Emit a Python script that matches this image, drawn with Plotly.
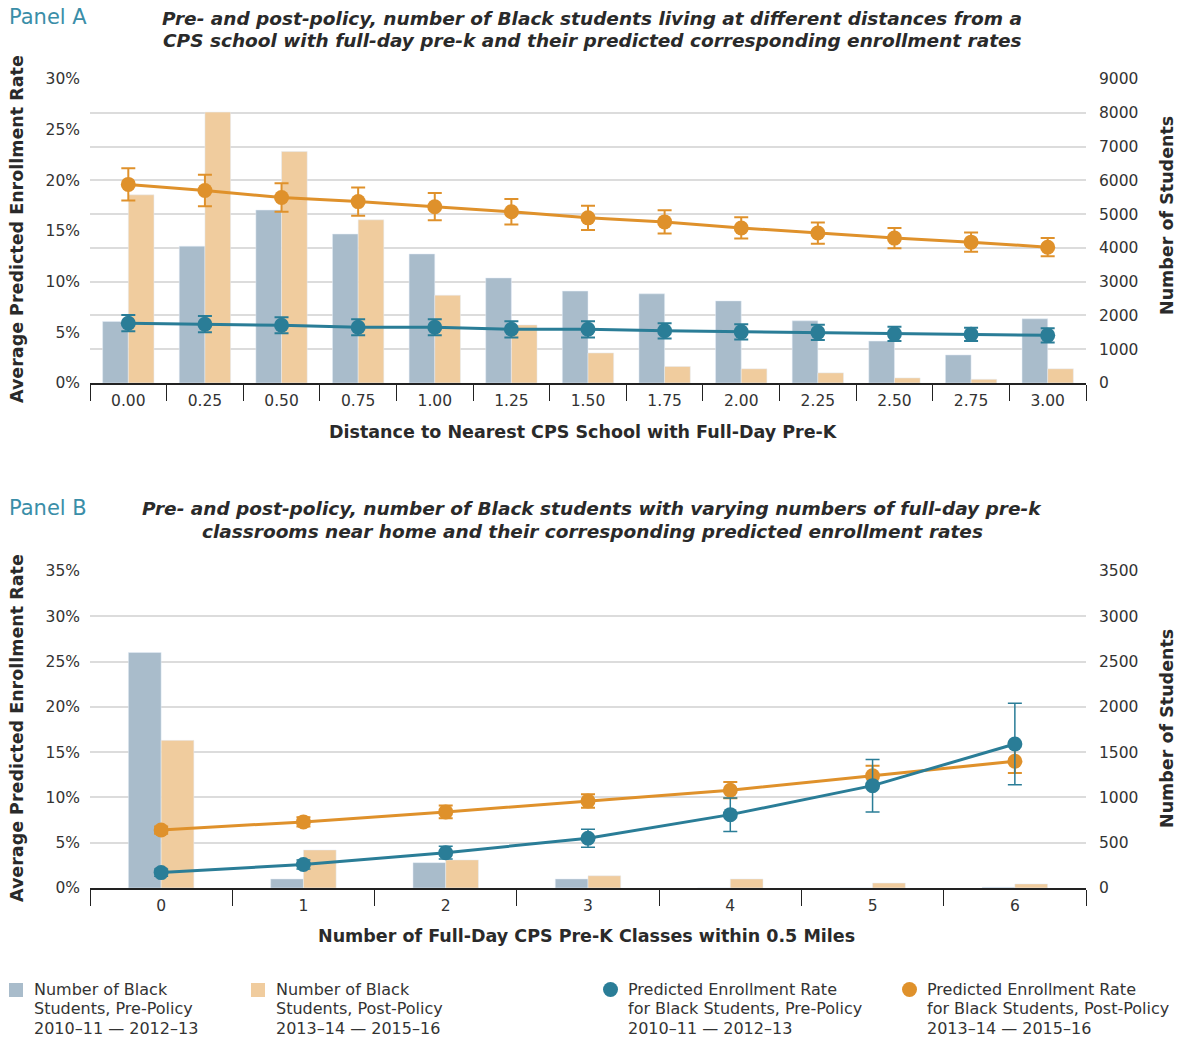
import plotly.graph_objects as go

# ---------------- Panel A data ----------------
dist_labels = ["0.00", "0.25", "0.50", "0.75", "1.00", "1.25", "1.50",
               "1.75", "2.00", "2.25", "2.50", "2.75", "3.00"]
a_students_pre = [1820, 4050, 5120, 4410, 3820, 3110, 2720, 2640, 2430, 1840, 1240, 830, 1900]
a_students_post = [5570, 8020, 6850, 4830, 2600, 1720, 890, 490, 420, 300, 150, 110, 420]
a_rate_pre = [5.9, 5.8, 5.7, 5.5, 5.5, 5.3, 5.3, 5.15, 5.05, 5.0, 4.85, 4.8, 4.7]
a_err_pre = [0.8, 0.8, 0.8, 0.8, 0.8, 0.8, 0.8, 0.75, 0.75, 0.75, 0.7, 0.65, 0.7]
a_rate_post = [19.6, 19.0, 18.3, 17.9, 17.4, 16.9, 16.3, 15.9, 15.3, 14.8, 14.3, 13.9, 13.4]
a_err_post = [1.6, 1.55, 1.4, 1.4, 1.35, 1.25, 1.2, 1.15, 1.05, 1.05, 1.0, 0.95, 0.9]

# ---------------- Panel B data ----------------
class_labels = ["0", "1", "2", "3", "4", "5", "6"]
b_students_pre = [2600, 100, 280, 100, 0, 0, 8]
b_students_post = [1630, 420, 310, 135, 100, 55, 45]
b_rate_pre = [1.7, 2.6, 3.9, 5.5, 8.1, 11.3, 15.9]
b_err_pre = [0.4, 0.5, 0.7, 1.0, 1.85, 2.9, 4.5]
b_rate_post = [6.4, 7.3, 8.4, 9.6, 10.8, 12.4, 14.0]
b_err_post_plus = [0.4, 0.5, 0.7, 0.75, 0.9, 1.1, 2.0]
b_err_post_minus = [0.4, 0.5, 0.7, 0.75, 0.9, 1.1, 1.3]

BAR_PRE = "#a9bccb"
BAR_POST = "#f0cc9e"
TEAL = "#2a7d97"
ORANGE = "#df912b"
PANEL_COLOR = "#3a8ea8"
TEXT = "#1e1e1e"
GRID = "#dcdcdc"
FONT = "DejaVu Sans"

W, H = 1180, 1042


def px_x(x):
    return x / W


def px_y(y):
    return 1 - y / H


fig = go.Figure()

# Panel A bars (counts, right axis) and rate lines (left axis)
fig.add_trace(go.Bar(x=dist_labels, y=a_students_pre, marker_color=BAR_PRE,
                     xaxis="x", yaxis="y", showlegend=False))
fig.add_trace(go.Bar(x=dist_labels, y=a_students_post, marker_color=BAR_POST,
                     xaxis="x", yaxis="y", showlegend=False))
fig.add_trace(go.Scatter(x=dist_labels, y=a_rate_pre, mode="lines+markers",
                         line=dict(color=TEAL, width=3),
                         marker=dict(color=TEAL, size=15),
                         error_y=dict(type="data", array=a_err_pre, color=TEAL,
                                      thickness=2, width=7),
                         xaxis="x", yaxis="y2", showlegend=False))
fig.add_trace(go.Scatter(x=dist_labels, y=a_rate_post, mode="lines+markers",
                         line=dict(color=ORANGE, width=3),
                         marker=dict(color=ORANGE, size=15),
                         error_y=dict(type="data", array=a_err_post, color=ORANGE,
                                      thickness=2, width=7),
                         xaxis="x", yaxis="y2", showlegend=False))

# Panel B bars and rate lines
fig.add_trace(go.Bar(x=class_labels, y=b_students_pre, marker_color=BAR_PRE,
                     width=0.23, offset=-0.23,
                     xaxis="x2", yaxis="y3", showlegend=False))
fig.add_trace(go.Bar(x=class_labels, y=b_students_post, marker_color=BAR_POST,
                     width=0.23, offset=0.0,
                     xaxis="x2", yaxis="y3", showlegend=False))
fig.add_trace(go.Scatter(x=class_labels, y=b_rate_post, mode="lines+markers",
                         line=dict(color=ORANGE, width=3),
                         marker=dict(color=ORANGE, size=15),
                         error_y=dict(type="data", array=b_err_post_plus,
                                      arrayminus=b_err_post_minus, color=ORANGE,
                                      thickness=2, width=7),
                         xaxis="x2", yaxis="y4", showlegend=False))
fig.add_trace(go.Scatter(x=class_labels, y=b_rate_pre, mode="lines+markers",
                         line=dict(color=TEAL, width=3),
                         marker=dict(color=TEAL, size=15),
                         error_y=dict(type="data", array=b_err_pre, color=TEAL,
                                      thickness=1.5, width=7),
                         xaxis="x2", yaxis="y4", showlegend=False))

x_dom = [px_x(90), px_x(1086)]
a_dom = [px_y(383), px_y(79)]
b_dom = [px_y(888), px_y(571)]

tick_font = dict(family=FONT, size=15.5, color="#333333")
xaxis_common = dict(type="category", domain=x_dom, showline=True, linecolor="#222222",
                    linewidth=1.5, ticks="outside", tickson="boundaries", ticklen=16,
                    tickcolor="#222222", tickwidth=1.2, showgrid=False,
                    tickfont=tick_font, ticklabelstandoff=3)
right_common = dict(side="right", showgrid=True, gridcolor=GRID, gridwidth=1.5,
                    zeroline=False, showline=False, tickfont=tick_font,
                    ticklabelstandoff=12)
left_common = dict(side="left", showgrid=False, zeroline=False,
                   showline=False, tickfont=tick_font, ticksuffix="%",
                   ticklabelstandoff=9)

fig.update_layout(
    width=W, height=H,
    margin=dict(l=0, r=0, t=0, b=0, autoexpand=False),
    paper_bgcolor="white", plot_bgcolor="white",
    barmode="group", bargap=0.33, bargroupgap=0,
    font=dict(family=FONT, color=TEXT),
    xaxis=dict(xaxis_common, anchor="y", range=[-0.5, len(dist_labels) - 0.5]),
    yaxis=dict(right_common, domain=a_dom, anchor="x", range=[0, 9000], dtick=1000),
    yaxis2=dict(left_common, overlaying="y", anchor="x", range=[0, 30], dtick=5),
    xaxis2=dict(xaxis_common, anchor="y3", range=[-0.5, len(class_labels) - 0.5]),
    yaxis3=dict(right_common, domain=b_dom, anchor="x2", range=[0, 3500], dtick=500),
    yaxis4=dict(left_common, overlaying="y3", anchor="x2", range=[0, 35], dtick=5),
)

annotations = []


def text(x, y, s, size, **kw):
    d = dict(x=px_x(x), y=px_y(y), xref="paper", yref="paper", text=s,
             showarrow=False, font=dict(family=FONT, size=size,
                                        color=kw.pop("color", TEXT),
                                        weight=kw.pop("weight", 400),
                                        style=kw.pop("style", "normal")))
    d.update(kw)
    annotations.append(d)


TITLE_COLOR = "#2a2a2a"

# Panel headings and italic chart titles
text(7, 17, "Panel A", 21, color=PANEL_COLOR, xanchor="left", yanchor="middle")
text(592, 18, "Pre- and post-policy, number of Black students living at different distances from a",
     18.5, weight=700, style="italic", color=TITLE_COLOR, xanchor="center", yanchor="middle")
text(592, 41, "CPS school with full-day pre-k and their predicted corresponding enrollment rates",
     18.5, weight=700, style="italic", color=TITLE_COLOR, xanchor="center", yanchor="middle")
text(7, 508, "Panel B", 21, color=PANEL_COLOR, xanchor="left", yanchor="middle")
text(592, 508, "Pre- and post-policy, number of Black students with varying numbers of full-day pre-k",
     18.5, weight=700, style="italic", color=TITLE_COLOR, xanchor="center", yanchor="middle")
text(592, 531, "classrooms near home and their corresponding predicted enrollment rates",
     18.5, weight=700, style="italic", color=TITLE_COLOR, xanchor="center", yanchor="middle")

# Axis titles
for yc in (229, 728):
    text(17, yc, "Average Predicted Enrollment Rate", 17.5, weight=700, color=TITLE_COLOR,
         textangle=-90, xanchor="center", yanchor="middle")
text(1167, 216, "Number of Students", 17.5, weight=700, color=TITLE_COLOR, textangle=-90,
     xanchor="center", yanchor="middle")
text(1167, 729, "Number of Students", 17.5, weight=700, color=TITLE_COLOR, textangle=-90,
     xanchor="center", yanchor="middle")
text(583, 432, "Distance to Nearest CPS School with Full-Day Pre-K", 17.5, weight=700,
     color=TITLE_COLOR, xanchor="center", yanchor="middle")
text(586, 936, "Number of Full-Day CPS Pre-K Classes within 0.5 Miles", 17.5, weight=700,
     color=TITLE_COLOR, xanchor="center", yanchor="middle")

# Legend
legend_items = [
    ("square", BAR_PRE, 9, ["Number of Black", "Students, Pre-Policy", "2010–11 — 2012–13"]),
    ("square", BAR_POST, 251, ["Number of Black", "Students, Post-Policy", "2013–14 — 2015–16"]),
    ("circle", TEAL, 603, ["Predicted Enrollment Rate", "for Black Students, Pre-Policy",
                           "2010–11 — 2012–13"]),
    ("circle", ORANGE, 902, ["Predicted Enrollment Rate", "for Black Students, Post-Policy",
                             "2013–14 — 2015–16"]),
]
line_y = [989, 1008.5, 1028]
shapes = []
for kind, color, x0, lines in legend_items:
    if kind == "square":
        shapes.append(dict(type="rect", xref="paper", yref="paper",
                           x0=px_x(x0), x1=px_x(x0 + 14), y0=px_y(997), y1=px_y(983),
                           fillcolor=color, line=dict(width=0)))
    else:
        shapes.append(dict(type="circle", xref="paper", yref="paper",
                           x0=px_x(x0), x1=px_x(x0 + 15), y0=px_y(997), y1=px_y(982),
                           fillcolor=color, line=dict(width=0)))
    for ly, s in zip(line_y, lines):
        text(x0 + 23, ly, s, 16, color="#333333", xanchor="left", yanchor="middle")

fig.update_layout(annotations=annotations, shapes=shapes)

fig.write_html("out.html")
